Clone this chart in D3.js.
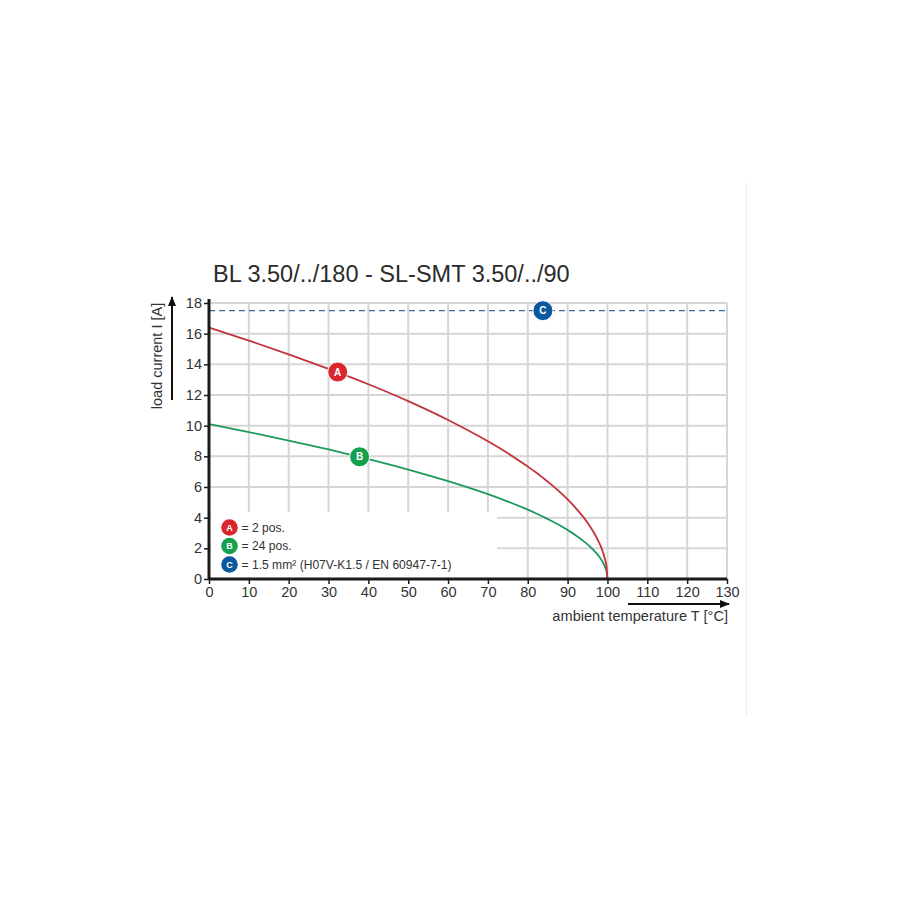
<!DOCTYPE html>
<html><head><meta charset="utf-8">
<script src="https://cdn.jsdelivr.net/npm/d3@7"></script>
<style>body{margin:0;background:#fff}svg{display:block}text{font-family:"Liberation Sans",Arial,sans-serif}</style>
</head><body><div id="c"></div>
<script>
const title = "BL 3.50/../180 - SL-SMT 3.50/../90";
const xTicks = [0,10,20,30,40,50,60,70,80,90,100,110,120,130];
const yTicks = [0,2,4,6,8,10,12,14,16,18];
const tempA = [0,10,20,30,40,50,60,70,75,80,82,84,86,88,90,92,94,95,96,97,98,98.5,99,99.5,99.8,100];
const currA = [16.4,15.55,14.65,13.7,12.7,11.6,10.37,8.98,8.2,7.33,6.96,6.56,6.14,5.68,5.19,4.64,4.02,3.67,3.28,2.84,2.32,2.01,1.64,1.16,0.73,0];
const tempB = [0,10,20,30,40,50,60,70,75,80,82,84,86,88,90,92,94,95,96,97,98,98.5,99,99.5,99.8,100];
const currB = [10.1,9.58,9.03,8.45,7.82,7.14,6.38,5.53,5.05,4.52,4.29,4.04,3.78,3.50,3.19,2.86,2.47,2.26,2.02,1.75,1.43,1.24,1.01,0.71,0.45,0];
const limitC = 17.5;
const markerIds = ["A","B","C"];
const markerT = [32.3,37.8,83.8];
const markerI = [13.5,7.97,17.5];
const legendTexts = ["= 2 pos.","= 24 pos.","= 1.5 mm² (H07V-K1.5 / EN 60947-7-1)"];
const markerFill = {A:"#d9262f",B:"#14a04c",C:"#0b58a0"};
const lineColor = {A:"#c1333d",B:"#1d9a5b"};

const W=900,H=900;
const svg=d3.select("#c").append("svg").attr("width",W).attr("height",H);
const x=d3.scaleLinear().domain([0,130]).range([209,727]);
const y=d3.scaleLinear().domain([0,18]).range([579,303]);

svg.append("line").attr("x1",746.5).attr("x2",746.5).attr("y1",183).attr("y2",716).attr("stroke","#ececec").attr("stroke-width",1);

const g=svg.append("g");
g.selectAll(".vg").data(xTicks.filter(d=>d>0)).join("line")
 .attr("x1",d=>x(d)).attr("x2",d=>x(d)).attr("y1",y(18)).attr("y2",y(0))
 .attr("stroke","#d6d6d6").attr("stroke-width",2);
g.selectAll(".hg").data(yTicks.filter(d=>d>0)).join("line")
 .attr("x1",x(0)).attr("x2",x(130)).attr("y1",d=>y(d)).attr("y2",d=>y(d))
 .attr("stroke","#d6d6d6").attr("stroke-width",2);

svg.append("rect").attr("x",211).attr("y",512).attr("width",286).attr("height",65).attr("fill","#fff");

svg.append("line").attr("x1",x(0)).attr("x2",x(130)).attr("y1",y(limitC)).attr("y2",y(limitC))
 .attr("stroke","#3a6a93").attr("stroke-width",1.3).attr("stroke-dasharray","6,4");

const line=d3.line().x(d=>x(d[0])).y(d=>y(d[1])).curve(d3.curveMonotoneX);
svg.append("path").attr("d",line(tempB.map((t,i)=>[t,currB[i]]))).attr("fill","none").attr("stroke",lineColor.B).attr("stroke-width",1.8);
svg.append("path").attr("d",line(tempA.map((t,i)=>[t,currA[i]]))).attr("fill","none").attr("stroke",lineColor.A).attr("stroke-width",1.8);

const ax=svg.append("g").attr("transform",`translate(0,${y(0)})`)
 .call(d3.axisBottom(x).tickValues(xTicks).tickSize(5).tickPadding(3));
ax.select(".domain").attr("stroke","#1a1a1a").attr("stroke-width",3).attr("d",`M${x(0)},0H${x(130)}`);
ax.selectAll(".tick line").attr("stroke","#1a1a1a").attr("stroke-width",1.5);
ax.selectAll(".tick text").attr("font-size",14.5).attr("fill","#333").attr("font-family","Liberation Sans, Arial, sans-serif");
const ay=svg.append("g").attr("transform",`translate(${x(0)},0)`)
 .call(d3.axisLeft(y).tickValues(yTicks).tickSize(5).tickPadding(2));
ay.select(".domain").attr("stroke","#1a1a1a").attr("stroke-width",3).attr("d",`M0,${y(0)+1}V${y(18)-4}`);
ay.selectAll(".tick line").attr("stroke","#1a1a1a").attr("stroke-width",1.5);
ay.selectAll(".tick text").attr("font-size",14.5).attr("fill","#333").attr("font-family","Liberation Sans, Arial, sans-serif");

markerIds.forEach((id,i)=>{
  const cx=x(markerT[i]), cy=y(markerI[i]);
  svg.append("circle").attr("cx",cx).attr("cy",cy).attr("r",10).attr("fill",markerFill[id]).attr("stroke","#fff").attr("stroke-width",1);
  svg.append("text").attr("x",cx).attr("y",cy+3.6).attr("text-anchor","middle").attr("font-size",10).attr("font-weight","bold").attr("fill","#fff").text(id);
});

markerIds.forEach((id,i)=>{
  const cy=527.5+i*18.5;
  svg.append("circle").attr("cx",229.5).attr("cy",cy).attr("r",8.3).attr("fill",markerFill[id]);
  svg.append("text").attr("x",229.5).attr("y",cy+3.3).attr("text-anchor","middle").attr("font-size",9).attr("font-weight","bold").attr("fill","#fff").text(id);
  svg.append("text").attr("x",241.5).attr("y",cy+4.2).attr("font-size",12.1).attr("fill","#333").text(legendTexts[i]);
});

svg.append("text").attr("x",213).attr("y",282).attr("font-size",23.5).attr("fill","#2b2b2b").text(title);

svg.append("defs").append("marker").attr("id","ah").attr("viewBox","0 0 10 10").attr("refX",9).attr("refY",5)
 .attr("markerWidth",10).attr("markerHeight",10).attr("markerUnits","userSpaceOnUse").attr("orient","auto")
 .append("path").attr("d","M0,1L10,5L0,9Z").attr("fill","#111");
svg.append("line").attr("x1",172).attr("x2",172).attr("y1",400).attr("y2",297).attr("stroke","#111").attr("stroke-width",2).attr("marker-end","url(#ah)");
svg.append("text").attr("transform","translate(162,356) rotate(-90)").attr("text-anchor","middle").attr("font-size",14.5).attr("fill","#333").text("load current I [A]");
svg.append("line").attr("x1",628).attr("x2",729).attr("y1",604).attr("y2",604).attr("stroke","#111").attr("stroke-width",2).attr("marker-end","url(#ah)");
svg.append("text").attr("x",728).attr("y",621).attr("text-anchor","end").attr("font-size",14.6).attr("fill","#333").text("ambient temperature T [°C]");
</script></body></html>
